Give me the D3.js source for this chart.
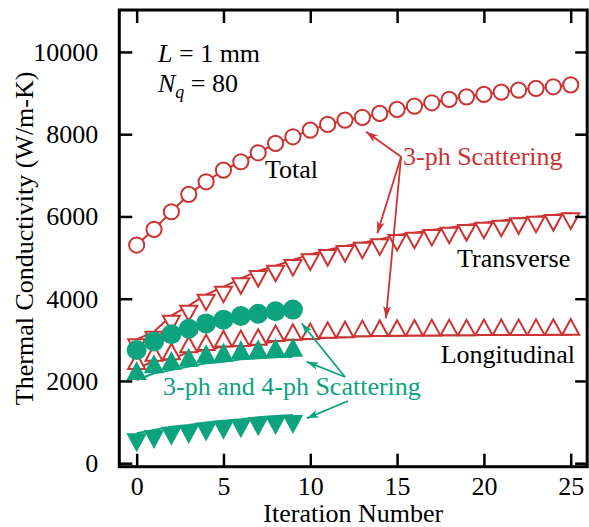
<!DOCTYPE html>
<html lang="en">
<head>
<meta charset="UTF-8">
<title>Thermal conductivity vs iteration</title>
<script src="https://d3js.org/d3.v7.min.js"></script>
<style>
  body { margin: 0; background: #fff; }
  svg text { font-family: "Liberation Serif", "Times New Roman", serif; font-size: 26px; }
</style>
</head>
<body>
<div id="chart"></div>
<script>
// iteration numbers
const iter3 = [0,1,2,3,4,5,6,7,8,9,10,11,12,13,14,15,16,17,18,19,20,21,22,23,24,25];
const iter4 = [0,1,2,3,4,5,6,7,8,9];

// 3-ph scattering only (W/m-K)
const total3 = [5305,5687,6114,6537,6843,7127,7330,7548,7776,7937,8100,8238,8343,8408,8505,8602,8683,8764,8846,8909,8968,9024,9072,9114,9153,9201];
const trans3 = [3013,3198,3588,3831,4099,4290,4495,4672,4801,4940,5078,5183,5280,5360,5443,5548,5604,5670,5725,5791,5847,5895,5954,5993,6034,6075];
const long3  = [2290,2490,2530,2700,2750,2840,2850,2880,2970,3000,3020,3050,3065,3090,3095,3100,3105,3108,3110,3112,3115,3117,3118,3120,3122,3125];

// 3-ph + 4-ph scattering
const total34 = [2753,2960,3135,3270,3400,3490,3580,3635,3695,3735];
const long34  = [2024,2187,2267,2348,2430,2469,2527,2552,2576,2591];
const trans34 = [729,809,889,931,987,1035,1069,1118,1149,1174];

const xTicks = [0,5,10,15,20,25];
const yTicks = [0,2000,4000,6000,8000,10000];

const red = "#cc3333";
const green = "#0ea37f";

const width = 589, height = 527;
const svg = d3.select("#chart").append("svg")
  .attr("width", width).attr("height", height);

const x = d3.scaleLinear().domain([-1, 25.95]).range([119.3, 587.2]);
const y = d3.scaleLinear().domain([-85, 11020]).range([466.7, 10]);

// arrow heads
const defs = svg.append("defs");
[["arrRed", red], ["arrGreen", green]].forEach(([id, c]) => {
  defs.append("marker")
    .attr("id", id).attr("viewBox", "0 0 12 8")
    .attr("refX", 12).attr("refY", 4)
    .attr("markerWidth", 12).attr("markerHeight", 8)
    .attr("markerUnits", "userSpaceOnUse")
    .attr("orient", "auto")
    .append("path").attr("d", "M0,0 L12,4 L0,8 L3,4 Z").attr("fill", c);
});

const line = d3.line().x(d => x(d[0])).y(d => y(d[1]));
const zip = (xs, ys) => xs.map((v, i) => [v, ys[i]]);

function drawSeries(xs, ys, color, shape, filled) {
  const pts = zip(xs, ys);
  svg.append("path").datum(pts)
    .attr("d", line).attr("fill", "none")
    .attr("stroke", color).attr("stroke-width", 2);
  const g = svg.append("g");
  if (shape === "circle") {
    g.selectAll("circle").data(pts).join("circle")
      .attr("cx", d => x(d[0])).attr("cy", d => y(d[1]))
      .attr("r", filled ? 10 : 7.6)
      .attr("fill", filled ? color : "#fff")
      .attr("stroke", color).attr("stroke-width", filled ? 0 : 2);
  } else {
    const w = filled ? 20.5 : 17, h = filled ? 19 : 15.5;
    const dir = shape === "up" ? -1 : 1;
    g.selectAll("path").data(pts).join("path")
      .attr("transform", d => `translate(${x(d[0])},${y(d[1])})`)
      .attr("d", `M${-w/2},0 L${w/2},0 L0,${dir*h} Z`)
      .attr("fill", filled ? color : "#fff")
      .attr("stroke", color).attr("stroke-width", filled ? 0 : 2)
      .attr("stroke-linejoin", "miter");
  }
}

drawSeries(iter3, total3, red, "circle", false);
drawSeries(iter3, trans3, red, "down", false);
drawSeries(iter3, long3, red, "up", false);
drawSeries(iter4, total34, green, "circle", true);
drawSeries(iter4, long34, green, "up", true);
drawSeries(iter4, trans34, green, "down", true);

// frame
svg.append("rect")
  .attr("x", x(-1)).attr("y", y(11020))
  .attr("width", x(25.95) - x(-1)).attr("height", y(-85) - y(11020))
  .attr("fill", "none").attr("stroke", "#000").attr("stroke-width", 3);

// axes with inward ticks
svg.append("g").attr("transform", `translate(0,${y(-85)})`)
  .call(d3.axisBottom(x).tickValues(xTicks).tickSizeInner(-13).tickSizeOuter(0).tickPadding(10))
  .call(g => g.select(".domain").remove());
svg.append("g").attr("transform", `translate(0,${y(11020)})`)
  .call(d3.axisTop(x).tickValues(xTicks).tickSizeInner(-13).tickSizeOuter(0).tickFormat(""))
  .call(g => g.select(".domain").remove());
svg.append("g").attr("transform", `translate(${x(-1)},0)`)
  .call(d3.axisLeft(y).tickValues(yTicks).tickSizeInner(-13).tickSizeOuter(0).tickPadding(21).tickFormat(d3.format("d")))
  .call(g => g.select(".domain").remove());
svg.append("g").attr("transform", `translate(${x(25.95)},0)`)
  .call(d3.axisRight(y).tickValues(yTicks).tickSizeInner(-12).tickSizeOuter(0).tickFormat(""))
  .call(g => g.select(".domain").remove());

svg.selectAll("g[font-family]").attr("font-family", null).attr("font-size", null);
svg.selectAll(".tick line").attr("stroke", "#000").attr("stroke-width", 2.5);
svg.selectAll(".tick text").attr("fill", "#000");

// axis titles
svg.append("text").attr("x", (x(-1) + x(25.95)) / 2).attr("y", 522)
  .attr("text-anchor", "middle").text("Iteration Number");
svg.append("text").attr("transform", `translate(33,${(y(-85) + y(11020)) / 2}) rotate(-90)`)
  .attr("text-anchor", "middle").text("Thermal Conductivity (W/m-K)");

// annotations
const t1 = svg.append("text").attr("x", x(1.23)).attr("y", y(9763));
t1.append("tspan").style("font-style", "italic").text("L");
t1.append("tspan").text(" = 1 mm");
const t2 = svg.append("text").attr("x", x(1.23)).attr("y", y(9033));
t2.append("tspan").style("font-style", "italic").text("N");
t2.append("tspan").style("font-style", "italic").style("font-size", "18px").attr("dy", 6).text("q");
t2.append("tspan").attr("dy", -6).text(" = 80");

svg.append("text").attr("x", x(7.39)).attr("y", y(6935)).text("Total");
svg.append("text").attr("x", x(24.97)).attr("y", y(4778)).attr("text-anchor", "end").text("Transverse");
svg.append("text").attr("x", x(25.25)).attr("y", y(2436)).attr("text-anchor", "end").text("Longitudinal");
svg.append("text").attr("x", x(15.34)).attr("y", y(7251)).attr("fill", red).text("3-ph Scattering");
svg.append("text").attr("x", x(1.52)).attr("y", y(1658)).attr("fill", green).text("3-ph and 4-ph Scattering");

// arrows [x0, y0, x1, y1] in data units
const redArrows = [
  [15.23, 7452, 13.21, 8060],
  [15.23, 7452, 13.86, 5590],
  [15.23, 7452, 14.36, 3523]
];
const greenArrows = [
  [12.0, 2096, 9.50, 3402],
  [12.0, 2096, 9.79, 2468],
  [12.17, 1512, 9.79, 1092]
];
function drawArrows(list, color, id) {
  svg.append("g").selectAll("line").data(list).join("line")
    .attr("x1", d => x(d[0])).attr("y1", d => y(d[1]))
    .attr("x2", d => x(d[2])).attr("y2", d => y(d[3]))
    .attr("stroke", color).attr("stroke-width", 1.8)
    .attr("marker-end", `url(#${id})`);
}
drawArrows(redArrows, red, "arrRed");
drawArrows(greenArrows, green, "arrGreen");
</script>
</body>
</html>
